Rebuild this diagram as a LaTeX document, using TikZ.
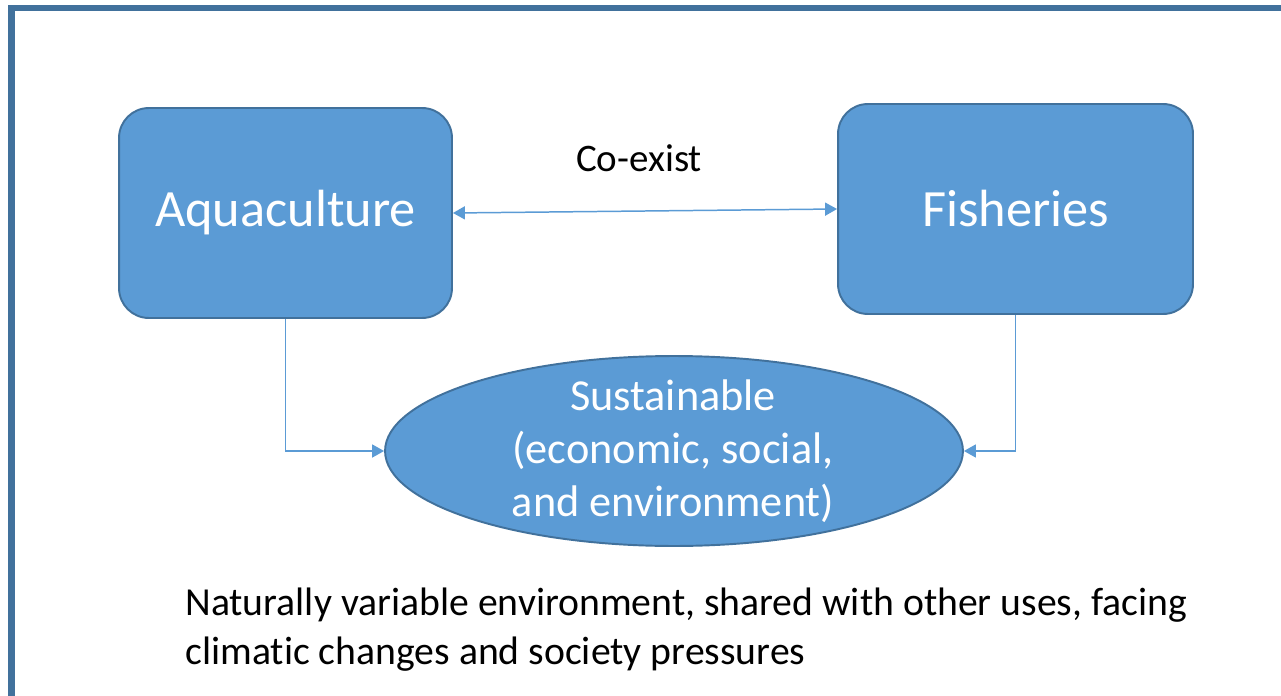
\documentclass[tikz,border=0pt]{standalone}
\usepackage{fontspec}
\setmainfont{Carlito}[Ligatures=NoCommon]
\usetikzlibrary{shapes.geometric,arrows.meta}
\definecolor{boxfill}{HTML}{5B9BD5}
\definecolor{boxline}{HTML}{41719C}
\begin{document}
\begin{tikzpicture}[x=0.02cm,y=-0.02cm,
  sector/.style={draw=boxline,line width=1.1pt,fill=boxfill,rounded corners=17pt,
    minimum height=4.2cm,text=white,font=\fontsize{29.8}{36}\selectfont},
  goal/.style={draw=boxline,line width=1.1pt,fill=boxfill,ellipse,inner sep=0pt,
    minimum width=11.56cm,minimum height=3.8cm},
  tip/.style={-{Triangle[length=6.8pt,width=7.4pt]}},
  link/.style={draw=boxfill,line width=0.85pt,tip}]
\useasboundingbox (0,0) rectangle (1281,696);
\draw [boxline,line width=3.6pt] (11.5,700) -- (11.5,8) -- (1281,8);
\node [sector,minimum width=6.66cm] (aqua) at (285.5,213) {Aquaculture};
\node [sector,minimum width=7.1cm] (fish) at (1015.5,209) {Fisheries};
\node [goal] (sust) at (674,451) {};
\node [text=white,align=center,font=\fontsize{25.2}{30.3}\selectfont] (sustlabel) at (673,451)
  {Sustainable\\(economic, social,\\and environment)};
\node [font=\fontsize{22.2}{27}\selectfont] (coexist) at (639,158) {Co-exist};
\draw [link,{Triangle[length=6.8pt,width=7.4pt]}-{Triangle[length=6.8pt,width=7.4pt]}] (aqua.east) -- (fish.west);
\draw [link] (aqua.south) |- (sust.west);
\draw [link] (fish.south) |- (sust.east);
\node [anchor=north west,inner sep=0pt,align=left,font=\fontsize{22.6}{27.6}\selectfont] (setting) at (185,588)
  {Naturally variable environment, shared with other uses, facing\\climatic changes and society pressures};
\end{tikzpicture}
\end{document}
